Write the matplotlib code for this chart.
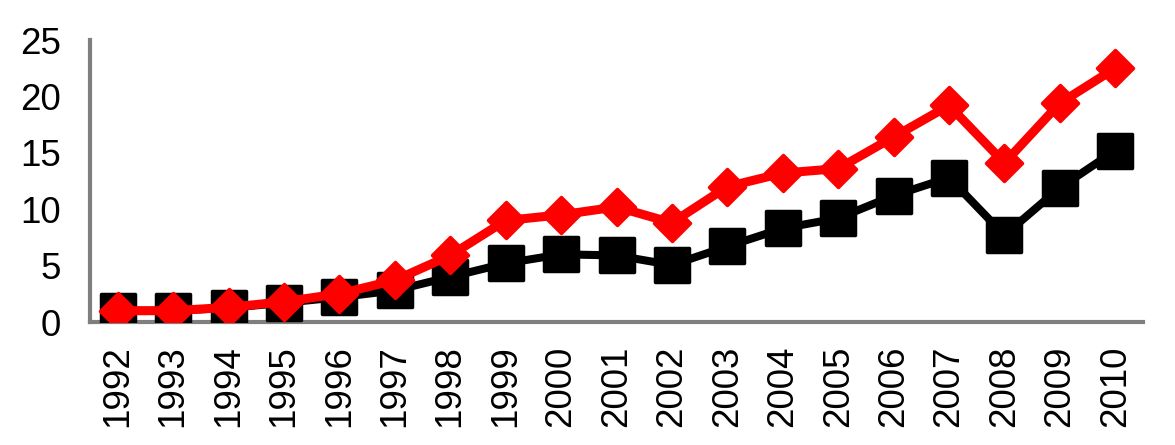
import matplotlib
matplotlib.use("Agg")
import matplotlib.pyplot as plt
from matplotlib.markers import MarkerStyle

years = [str(y) for y in range(1992, 2011)]
black_series = [1.0, 1.0, 1.25, 1.7, 2.2, 2.8, 4.0, 5.2, 6.0, 5.9, 5.05, 6.7, 8.3, 9.2, 11.2, 12.8, 7.7, 11.9, 15.2]
red_series = [1.0, 1.0, 1.3, 1.8, 2.5, 3.7, 5.9, 9.0, 9.5, 10.2, 8.8, 12.0, 13.2, 13.6, 16.4, 19.2, 14.1, 19.4, 22.5]
y_ticks = [0, 5, 10, 15, 20, 25]

plt.rcParams['font.family'] = ['Liberation Sans', 'DejaVu Sans']

fig = plt.figure(figsize=(11.75, 4.45), dpi=100)
ax = fig.add_axes([90/1175, 123/445, 1053/1175, 282/445])

x = list(range(len(years)))
ax.plot(x, black_series, color='black', lw=5.8, marker=MarkerStyle('s', joinstyle='round'),
        ms=25, mew=2.5, mec='black', mfc='black', solid_joinstyle='round', zorder=3)
ax.plot(x, red_series, color='#FF0000', lw=6.5, marker=MarkerStyle('D', joinstyle='round'),
        ms=18.5, mew=2.5, mec='#FF0000', mfc='#FF0000', solid_joinstyle='round', zorder=4)

ax.set_xlim(-0.5, len(years) - 0.5)
ax.set_ylim(0, 25)
ax.set_yticks(y_ticks)
ax.set_xticks(x)
ax.set_xticklabels(years, rotation=90)
ax.tick_params(axis='both', length=0, labelsize=26.5, colors='black')
ax.tick_params(axis='y', pad=21)
ax.tick_params(axis='x', pad=17)
for s in ['top', 'right']:
    ax.spines[s].set_visible(False)
for s in ['left', 'bottom']:
    ax.spines[s].set_color('#7f7f7f')
    ax.spines[s].set_linewidth(3)

fig.savefig('out.png', dpi=100)
